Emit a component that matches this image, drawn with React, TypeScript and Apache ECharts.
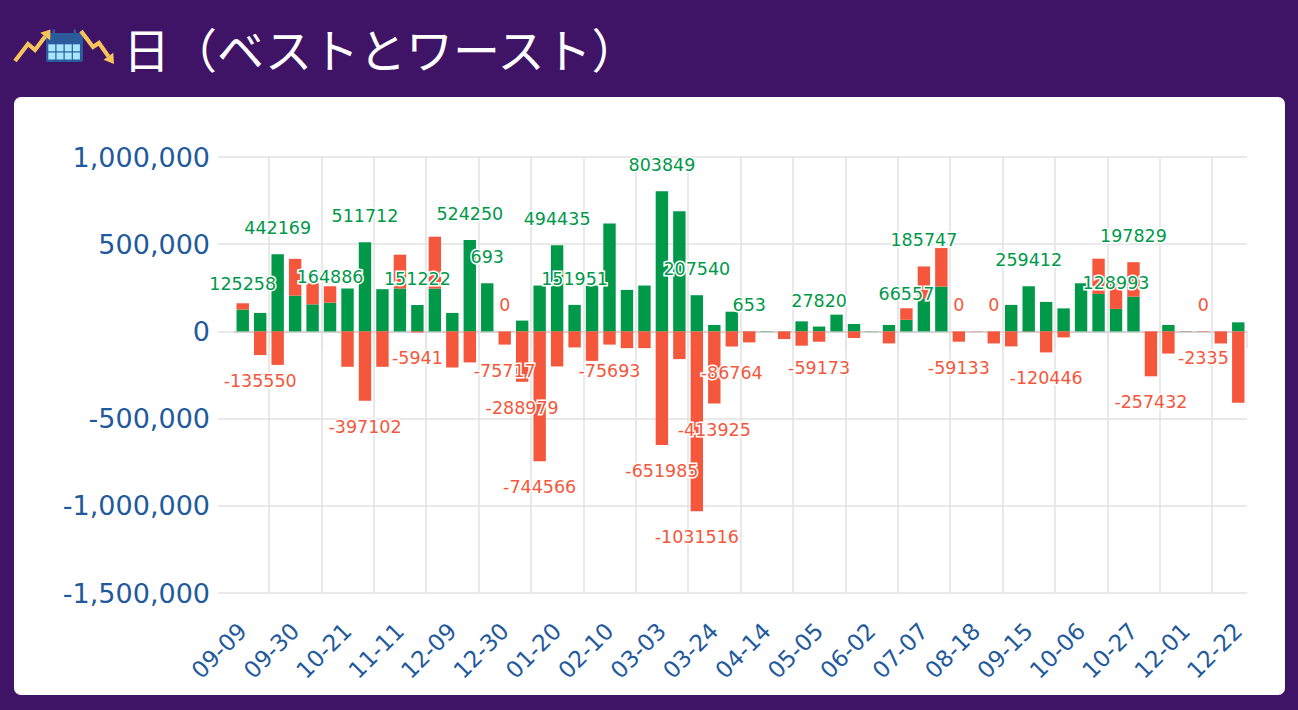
import React, { useEffect, useRef } from "react";
import * as echarts from "echarts";

const titleText = "日（ベストとワースト）";

const categories = [
  "09-09", "09-16", "09-23", "09-30", "10-07", "10-14", "10-21", "10-28", "11-04", "11-11",
  "11-18", "12-02", "12-09", "12-16", "12-23", "12-30", "01-06", "01-13", "01-20", "01-27",
  "02-03", "02-10", "02-17", "02-24", "03-03", "03-10", "03-17", "03-24", "03-31", "04-07",
  "04-14", "04-21", "04-28", "05-05", "05-12", "05-19", "06-02", "06-16", "06-23", "07-07",
  "07-14", "07-28", "08-18", "08-25", "09-08", "09-15", "09-22", "09-29", "10-06", "10-13",
  "10-20", "10-27", "11-03", "11-17", "12-01", "12-08", "12-15", "12-22",
];

const bestValues = [
  125258, 106000, 442169, 205000, 155000, 164886, 246000, 511712, 242000, 246000,
  151222, 246000, 106000, 524250, 276000, 0, 62000, 263000, 494435, 151951,
  263000, 618000, 238000, 263000, 803849, 689000, 207540, 37000, 113000, 653,
  1800, 900, 57600, 27820, 96000, 42600, 1500, 37000, 66557, 186800,
  257000, 0, 0, 0, 152000, 259412, 169000, 132000, 276000, 215000,
  128993, 199000, 0, 37000, 1200, 0, 0, 52000,
];

const worstValues = [
  36000, -135550, -192000, 211000, 121000, 94000, -203000, -397102, -203000, 194000,
  -5941, 297000, -207000, -178000, 693, -75717, -288979, -744566, -201000, -92000,
  -169000, -75693, -96000, -96000, -651985, -159000, -1031516, -413925, -86764, -63000,
  0, -44000, -82000, -59173, 0, -38000, 0, -69000, 66000, 185747,
  221000, -59133, -1500, -69000, -86000, -1800, -120446, -34500, 0, 202000,
  150000, 197829, -257432, -127000, -1200, -2335, -69000, -409000,
];

const bestLabelIndices = [0, 2, 5, 7, 10, 13, 15, 18, 19, 24, 26, 29, 33, 38, 41, 43, 45, 50, 55];
const worstLabelIndices = [1, 7, 10, 14, 15, 16, 17, 21, 24, 26, 27, 28, 33, 39, 41, 46, 51, 52, 55];

const yTickValues = [-1500000, -1000000, -500000, 0, 500000, 1000000];

const GREEN = "#00994a";
const RED = "#f5573c";
const BLUE = "#1f5a9c";
const GRID = "#e2e2e2";

function buildItems(values: number[], shown: number[]) {
  return values.map((v, i) => ({
    value: v,
    label: {
      show: shown.includes(i),
      position: v < 0 ? "bottom" : "top",
      color: v > 0 ? GREEN : RED,
    },
  }));
}

export default function App() {
  const ref = useRef<HTMLDivElement>(null);

  useEffect(() => {
    document.body.style.margin = "0";
    const chart = echarts.init(ref.current as HTMLDivElement, null, {
      renderer: "svg",
      width: 1298,
      height: 710,
    });

    const labelBase = {
      fontFamily: "DejaVu Sans",
      fontSize: 17.5,
      distance: 17,
      textBorderColor: "#ffffff",
      textBorderWidth: 3,
    };
    const yellow = "#f7c35a";
    const calBlue = "#2b5b9b";
    const cellBlue = "#a6e6ff";
    const cellXs = [48.3, 56.5, 64.7, 72.9];
    const cellYs = [44.3, 52.5];
    const cells: any[] = [];
    cellYs.forEach((cy) =>
      cellXs.forEach((cx) =>
        cells.push({ type: "rect", shape: { x: cx, y: cy, width: 7, height: 7 }, style: { fill: cellBlue } })
      )
    );

    const yMin = yTickValues[0];
    const yMax = yTickValues[yTickValues.length - 1];
    const yInterval = yTickValues[1] - yTickValues[0];

    chart.setOption({
      animation: false,
      backgroundColor: "transparent",
      graphic: [
        {
          type: "group",
          z: 10,
          children: [
            { type: "rect", shape: { x: 46, y: 33, width: 37, height: 29, r: 2 }, style: { fill: calBlue } },
            { type: "rect", shape: { x: 52.5, y: 29.5, width: 2.6, height: 6 }, style: { fill: calBlue } },
            { type: "rect", shape: { x: 73.5, y: 29.5, width: 2.6, height: 6 }, style: { fill: calBlue } },
            ...cells,
            {
              type: "polyline",
              shape: { points: [[15, 61], [28, 44], [35, 50], [45.2, 36.4]] },
              style: { stroke: yellow, lineWidth: 4.2, fill: "none", lineJoin: "miter" },
            },
            {
              type: "polygon",
              shape: { points: [[50.5, 29.5], [50.2, 40.3], [40.2, 32.8]] },
              style: { fill: yellow },
            },
            {
              type: "polyline",
              shape: { points: [[81, 31], [93, 47], [99, 43], [108.4, 56.4]] },
              style: { stroke: yellow, lineWidth: 4.2, fill: "none", lineJoin: "miter" },
            },
            {
              type: "polygon",
              shape: { points: [[114, 64], [113.3, 52.8], [103.5, 59.7]] },
              style: { fill: yellow },
            },
            {
              type: "text",
              x: 123,
              y: 47,
              style: {
                text: titleText,
                fill: "#ffffff",
                font: '47px "Noto Sans CJK JP"',
                verticalAlign: "middle",
                align: "left",
              },
            },
          ],
        },
      ],
      grid: { left: 234, right: 51, top: 157, bottom: 117, outerBoundsMode: "none" },
      xAxis: {
        type: "category",
        data: categories,
        boundaryGap: true,
        axisLine: { show: true, lineStyle: { color: "#cccccc", width: 1.5 } },
        axisTick: {
          show: true,
          length: 17,
          interval: (i: number) => i % 3 === 2,
          lineStyle: { color: GRID, width: 1.5 },
        },
        axisLabel: {
          interval: 2,
          rotate: 45,
          color: BLUE,
          fontFamily: "DejaVu Sans",
          fontSize: 23,
          margin: 34,
        },
        splitLine: {
          show: true,
          interval: (i: number) => i % 3 === 2,
          showMaxLine: false,
          lineStyle: { color: GRID, width: 1.5 },
        },
      },
      yAxis: {
        type: "value",
        min: yMin,
        max: yMax,
        interval: yInterval,
        axisLine: { show: false },
        axisTick: { show: true, length: 16, lineStyle: { color: GRID, width: 1.5 } },
        axisLabel: {
          color: BLUE,
          fontFamily: "DejaVu Sans",
          fontSize: 27,
          margin: 24,
          formatter: (v: number) => v.toLocaleString("en-US"),
        },
        splitLine: { show: true, lineStyle: { color: GRID, width: 1.5 } },
      },
      series: [
        {
          type: "bar",
          name: "ベスト",
          stack: "day",
          barWidth: "71%",
          data: buildItems(bestValues, bestLabelIndices),
          itemStyle: { color: GREEN },
          label: labelBase,
        },
        {
          type: "bar",
          name: "ワースト",
          stack: "day",
          barWidth: "71%",
          data: buildItems(worstValues, worstLabelIndices),
          itemStyle: { color: RED },
          label: labelBase,
        },
      ],
    });

    return () => chart.dispose();
  }, []);

  return (
    <div style={{ position: "absolute", left: 0, top: 0, width: 1298, height: 710, background: "#3f1466" }}>
      <div
        style={{
          position: "absolute",
          left: 14,
          top: 97,
          width: 1271,
          height: 598,
          background: "#ffffff",
          borderRadius: 7,
        }}
      />
      <div ref={ref} style={{ position: "absolute", left: 0, top: 0, width: 1298, height: 710 }} />
    </div>
  );
}
